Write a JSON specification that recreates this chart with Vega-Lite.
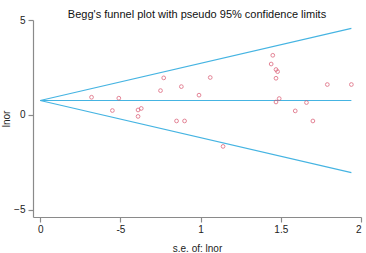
{
  "$schema": "https://vega.github.io/schema/vega-lite/v6.json",
  "width": 328,
  "height": 197,
  "autosize": {"type": "none"},
  "padding": {"left": 33, "top": 20, "right": 5, "bottom": 36},
  "background": "white",
  "title": {
    "text": "Begg's funnel plot with pseudo 95% confidence limits",
    "font": "Liberation Sans",
    "fontSize": 11,
    "fontWeight": "normal",
    "color": "#111",
    "anchor": "middle",
    "offset": -5
  },
  "config": {
    "view": {"stroke": null},
    "axis": {
      "domainColor": "#8a8a8a",
      "tickColor": "#8a8a8a",
      "domainWidth": 1.2,
      "tickWidth": 1.2,
      "tickSize": 5,
      "grid": false,
      "labelFont": "Liberation Sans",
      "labelFontSize": 10,
      "labelColor": "#222",
      "titleFont": "Liberation Sans",
      "titleFontSize": 10,
      "titleFontWeight": "normal",
      "titleColor": "#222"
    }
  },
  "datasets": {
    "studies": [
      {"se": 0.32, "lnor": 0.93},
      {"se": 0.49, "lnor": 0.88},
      {"se": 0.45, "lnor": 0.23},
      {"se": 0.61, "lnor": 0.26},
      {"se": 0.63, "lnor": 0.34},
      {"se": 0.61, "lnor": -0.08},
      {"se": 0.77, "lnor": 1.95},
      {"se": 0.75, "lnor": 1.28},
      {"se": 0.88, "lnor": 1.49},
      {"se": 0.85, "lnor": -0.32},
      {"se": 0.90, "lnor": -0.32},
      {"se": 0.99, "lnor": 1.04},
      {"se": 1.06, "lnor": 1.97},
      {"se": 1.14, "lnor": -1.66},
      {"se": 1.45, "lnor": 3.14},
      {"se": 1.44, "lnor": 2.68},
      {"se": 1.47, "lnor": 2.39},
      {"se": 1.48, "lnor": 2.28},
      {"se": 1.47, "lnor": 1.93},
      {"se": 1.49, "lnor": 0.86},
      {"se": 1.47, "lnor": 0.68},
      {"se": 1.66, "lnor": 0.65},
      {"se": 1.59, "lnor": 0.21},
      {"se": 1.70, "lnor": -0.32},
      {"se": 1.79, "lnor": 1.60},
      {"se": 1.94, "lnor": 1.60}
    ],
    "limits": [
      {"line": "upper", "se": 0, "lnor": 0.76},
      {"line": "upper", "se": 1.94, "lnor": 4.56},
      {"line": "pooled", "se": 0, "lnor": 0.76},
      {"line": "pooled", "se": 1.94, "lnor": 0.76},
      {"line": "lower", "se": 0, "lnor": 0.76},
      {"line": "lower", "se": 1.94, "lnor": -3.04}
    ]
  },
  "layer": [
    {
      "data": {"name": "limits"},
      "mark": {"type": "line", "color": "#45b4e2", "strokeWidth": 1.1},
      "encoding": {
        "x": {
          "field": "se", "type": "quantitative",
          "scale": {"domain": [-0.045, 2], "nice": false, "zero": false},
          "axis": {
            "title": "s.e. of: lnor",
            "values": [0, 0.5, 1, 1.5, 2],
            "format": "~g",
            "labelExpr": "datum.value == 0.5 ? '-5' : datum.label",
            "labelPadding": 2,
            "titlePadding": 9
          }
        },
        "y": {
          "field": "lnor", "type": "quantitative",
          "scale": {"domain": [-5.38, 5], "nice": false, "zero": false},
          "axis": {
            "title": "lnor",
            "values": [-5, 0, 5],
            "labelPadding": 3,
            "titlePadding": 2
          }
        },
        "detail": {"field": "line"}
      }
    },
    {
      "data": {"name": "studies"},
      "mark": {"type": "point", "shape": "circle", "filled": false, "color": "#d9506a", "size": 14, "strokeWidth": 1},
      "encoding": {
        "x": {"field": "se", "type": "quantitative"},
        "y": {"field": "lnor", "type": "quantitative"}
      }
    }
  ]
}
